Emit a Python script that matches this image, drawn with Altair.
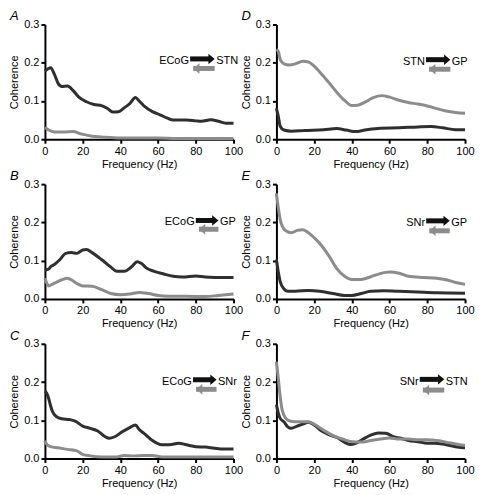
import altair as alt
import pandas as pd

# ---------------- data ----------------
# Panel A: ECoG -> STN (dark) / STN -> ECoG (gray)
A_dark_f = [0, 3, 5, 7, 9, 12, 15, 18, 22, 26, 30, 33, 36, 39, 42, 45, 48, 50, 53, 57, 61, 65, 68, 75, 80, 83, 88, 92, 96, 100]
A_dark_c = [0.178, 0.187, 0.17, 0.146, 0.138, 0.139, 0.127, 0.11, 0.098, 0.091, 0.088, 0.081, 0.071, 0.072, 0.082, 0.093, 0.109, 0.1, 0.085, 0.072, 0.064, 0.055, 0.05, 0.05, 0.048, 0.047, 0.051, 0.047, 0.042, 0.042]
A_gray_f = [0, 2, 5, 10, 15, 19, 25, 30, 40, 50, 60, 70, 80, 90, 100]
A_gray_c = [0.031, 0.024, 0.019, 0.019, 0.02, 0.014, 0.008, 0.006, 0.003, 0.003, 0.003, 0.002, 0.002, 0.002, 0.002]

# Panel B: ECoG -> GP
B_dark_f = [0, 2, 3, 5, 8, 11, 14, 17, 20, 22, 25, 30, 35, 38, 42, 46, 49, 51, 54, 58, 63, 68, 73, 80, 85, 90, 95, 100]
B_dark_c = [0.075, 0.078, 0.084, 0.09, 0.103, 0.119, 0.121, 0.119, 0.128, 0.129, 0.121, 0.103, 0.083, 0.072, 0.072, 0.084, 0.097, 0.093, 0.08, 0.072, 0.065, 0.059, 0.057, 0.06, 0.057, 0.056, 0.056, 0.056]
B_gray_f = [0, 1, 2, 5, 9, 12, 14, 17, 20, 25, 30, 35, 40, 45, 50, 55, 60, 65, 75, 85, 92, 100]
B_gray_c = [0.054, 0.041, 0.034, 0.041, 0.05, 0.054, 0.05, 0.04, 0.034, 0.033, 0.024, 0.014, 0.011, 0.013, 0.017, 0.014, 0.009, 0.007, 0.007, 0.006, 0.009, 0.013]

# Panel C: ECoG -> SNr
C_dark_f = [0, 1, 2, 3, 4, 6, 9, 13, 16, 20, 24, 28, 32, 34, 37, 41, 45, 48, 50, 53, 57, 62, 66, 71, 75, 80, 85, 90, 95, 100]
C_dark_c = [0.176, 0.17, 0.157, 0.138, 0.123, 0.11, 0.104, 0.102, 0.098, 0.085, 0.079, 0.072, 0.057, 0.053, 0.057, 0.07, 0.081, 0.088, 0.076, 0.064, 0.047, 0.036, 0.036, 0.04, 0.036, 0.031, 0.03, 0.027, 0.025, 0.025]
C_gray_f = [0, 1, 3, 7, 12, 17, 20, 24, 30, 38, 42, 47, 52, 57, 62, 70, 80, 90, 100]
C_gray_c = [0.047, 0.037, 0.031, 0.028, 0.024, 0.02, 0.011, 0.007, 0.004, 0.004, 0.008, 0.007, 0.008, 0.008, 0.004, 0.004, 0.004, 0.004, 0.004]

# Panel D: STN -> GP
D_dark_f = [0, 1, 2, 4, 8, 15, 25, 32, 37, 42, 47, 55, 65, 75, 82, 88, 95, 100]
D_dark_c = [0.081, 0.06, 0.034, 0.024, 0.021, 0.023, 0.025, 0.028, 0.024, 0.02, 0.024, 0.029, 0.03, 0.032, 0.033, 0.03, 0.025, 0.025]
D_gray_f = [0, 1, 2, 4, 7, 10, 14, 17, 20, 24, 28, 32, 36, 40, 43, 47, 51, 56, 60, 65, 70, 75, 80, 85, 90, 95, 100]
D_gray_c = [0.234, 0.23, 0.208, 0.197, 0.194, 0.197, 0.204, 0.202, 0.191, 0.17, 0.147, 0.123, 0.102, 0.088, 0.089, 0.097, 0.108, 0.114, 0.11, 0.102, 0.096, 0.092, 0.087, 0.08, 0.074, 0.07, 0.068]

# Panel E: SNr -> GP
E_dark_f = [0, 1, 2, 4, 6, 10, 17, 23, 30, 36, 40, 45, 50, 57, 65, 75, 85, 100]
E_dark_c = [0.103, 0.07, 0.045, 0.026, 0.02, 0.02, 0.022, 0.02, 0.014, 0.009, 0.009, 0.014, 0.02, 0.021, 0.02, 0.018, 0.016, 0.015]
E_gray_f = [0, 1, 2, 3, 5, 8, 11, 14, 17, 20, 24, 28, 32, 36, 40, 45, 50, 55, 60, 65, 70, 78, 85, 90, 95, 100]
E_gray_c = [0.276, 0.238, 0.208, 0.191, 0.178, 0.173, 0.179, 0.181, 0.173, 0.16, 0.139, 0.111, 0.079, 0.06, 0.051, 0.051, 0.058, 0.066, 0.07, 0.067, 0.059, 0.056, 0.054, 0.05, 0.043, 0.038]

# Panel F: SNr -> STN
F_dark_f = [0, 1, 2, 4, 6, 8, 11, 14, 17, 20, 24, 28, 32, 36, 39, 42, 46, 50, 54, 58, 62, 66, 70, 75, 80, 84, 88, 92, 96, 100]
F_dark_c = [0.141, 0.119, 0.105, 0.096, 0.083, 0.079, 0.085, 0.09, 0.095, 0.088, 0.072, 0.062, 0.055, 0.043, 0.037, 0.04, 0.051, 0.061, 0.067, 0.066, 0.057, 0.053, 0.047, 0.044, 0.04, 0.04, 0.038, 0.034, 0.03, 0.028]
F_gray_f = [0, 1, 2, 3, 5, 7, 10, 14, 17, 20, 25, 30, 35, 40, 45, 50, 55, 60, 65, 70, 75, 80, 85, 90, 95, 100]
F_gray_c = [0.253, 0.209, 0.162, 0.128, 0.105, 0.098, 0.096, 0.096, 0.096, 0.09, 0.074, 0.06, 0.051, 0.044, 0.043, 0.047, 0.051, 0.054, 0.051, 0.051, 0.049, 0.049, 0.047, 0.043, 0.038, 0.034]

panel_letters = ["A", "B", "C", "D", "E", "F"]
ann_from = ["ECoG", "ECoG", "ECoG", "STN", "SNr", "SNr"]
ann_to = ["STN", "GP", "SNr", "GP", "GP", "STN"]
arrow_start = [77.0, 80.0, 78.5, 79.3, 79.4, 76.0]
arrow_end = [90.0, 92.0, 91.0, 92.2, 91.9, 89.0]
arrow_y_fwd = [0.210, 0.205, 0.206, 0.208, 0.204, 0.207]
arrow_y_back = [0.185, 0.182, 0.181, 0.183, 0.178, 0.179]

x_ticks = [0, 20, 40, 60, 80, 100]
y_ticks = [0.0, 0.1, 0.2, 0.3]

curves = {
    "A": (A_dark_f, A_dark_c, A_gray_f, A_gray_c),
    "B": (B_dark_f, B_dark_c, B_gray_f, B_gray_c),
    "C": (C_dark_f, C_dark_c, C_gray_f, C_gray_c),
    "D": (D_dark_f, D_dark_c, D_gray_f, D_gray_c),
    "E": (E_dark_f, E_dark_c, E_gray_f, E_gray_c),
    "F": (F_dark_f, F_dark_c, F_gray_f, F_gray_c),
}

DARK = "#2f2f2f"
GRAY = "#8c8c8c"
FONT = "Liberation Sans"
W, H = 189, 115
HEAD = 3.3  # arrow-head length in data units

head_right = "M-0.6,-1L0.6,0L-0.6,1Z"
head_left = "M0.6,-1L-0.6,0L0.6,1Z"

XS = alt.Scale(domain=[0, 100], nice=False, zero=False)
YS = alt.Scale(domain=[0, 0.3], nice=False)
XAX = alt.Axis(values=x_ticks, format="d", title="Frequency (Hz)", titlePadding=2,
               labelOverlap=False, labelFlush=False, labelBound=False)
YAX = alt.Axis(values=y_ticks, format=".1f", title="Coherence", titlePadding=4,
               labelOverlap=False, labelFlush=False, labelBound=False)


def panel(i):
    L = panel_letters[i]
    df_, dc, gf, gc = curves[L]
    lines = pd.DataFrame({
        "f": list(df_) + list(gf),
        "c": list(dc) + list(gc),
        "s": ["dark"] * len(df_) + ["gray"] * len(gf),
    })

    line = alt.Chart(lines).mark_line(strokeWidth=3, interpolate="monotone").encode(
        x=alt.X("f:Q", scale=XS, axis=XAX),
        y=alt.Y("c:Q", scale=YS, axis=YAX),
        color=alt.Color("s:N", scale=alt.Scale(domain=["dark", "gray"], range=[DARK, GRAY]), legend=None),
        order=alt.Order("s:N", sort="descending"),
    )

    s0, s1 = arrow_start[i], arrow_end[i]
    yf, yb = arrow_y_fwd[i], arrow_y_back[i]
    shafts = pd.DataFrame({
        "f": [s0, s0 + HEAD * 0.5],
        "f2": [s1 - HEAD * 0.5, s1],
        "c": [yf, yb],
        "col": ["fwd", "back"],
    })
    heads_f = pd.DataFrame({"f": [s1 - HEAD * 0.5], "c": [yf]})
    heads_b = pd.DataFrame({"f": [s0 + HEAD], "c": [yb]})
    labels_l = pd.DataFrame({"f": [s0 - 0.6], "c": [(yf + yb) / 2 + 0.007], "t": [ann_from[i]]})
    labels_r = pd.DataFrame({"f": [s1 + 0.8], "c": [(yf + yb) / 2 + 0.007], "t": [ann_to[i]]})

    ax = alt.X("f:Q", scale=XS, axis=XAX)
    ay = alt.Y("c:Q", scale=YS, axis=YAX)

    shaft = alt.Chart(shafts).mark_rule(strokeWidth=5, strokeCap="butt").encode(
        x=ax, x2="f2:Q", y=ay,
        color=alt.Color("col:N", scale=alt.Scale(domain=["fwd", "back"], range=["#111111", GRAY]), legend=None),
    )
    hf = alt.Chart(heads_f).mark_point(shape=head_right, filled=True, size=110, color="#111111", opacity=1).encode(
        x=ax, y=ay)
    hb = alt.Chart(heads_b).mark_point(shape=head_left, filled=True, size=110, color=GRAY, opacity=1).encode(
        x=ax, y=ay)
    lab_r = alt.Chart(labels_l).mark_text(align="right", baseline="middle", font=FONT, fontSize=11, color="black").encode(
        x=ax, y=ay, text="t:N")
    lab_l = alt.Chart(labels_r).mark_text(align="left", baseline="middle", font=FONT, fontSize=11, color="black").encode(
        x=ax, y=ay, text="t:N")

    return alt.layer(line, shaft, hf, hb, lab_r, lab_l).resolve_scale(color="independent").properties(
        width=W, height=H,
        title=alt.TitleParams(text=L, anchor="start", frame="group", dx=-35, offset=-5,
                              fontStyle="italic", fontWeight="normal", fontSize=13, font=FONT, color="black"),
    )


order = [0, 3, 1, 4, 2, 5]  # A D / B E / C F
chart = alt.concat(*[panel(i) for i in order], columns=2, spacing={"row": 45, "column": 43},
                   bounds="flush").configure_view(stroke=None).configure_axis(
    domainColor="black", domainWidth=2, tickColor="black", tickWidth=2, tickSize=4,
    labelFont=FONT, labelFontSize=11, labelColor="black", labelPadding=2,
    titleFont=FONT, titleFontSize=11, titleFontWeight="normal", titleColor="black",
    grid=False, zindex=1,
).properties(padding={"left": 0, "top": 2, "right": 0, "bottom": 0})

chart.save("out.html", embed_options={"renderer": "svg", "actions": False})
